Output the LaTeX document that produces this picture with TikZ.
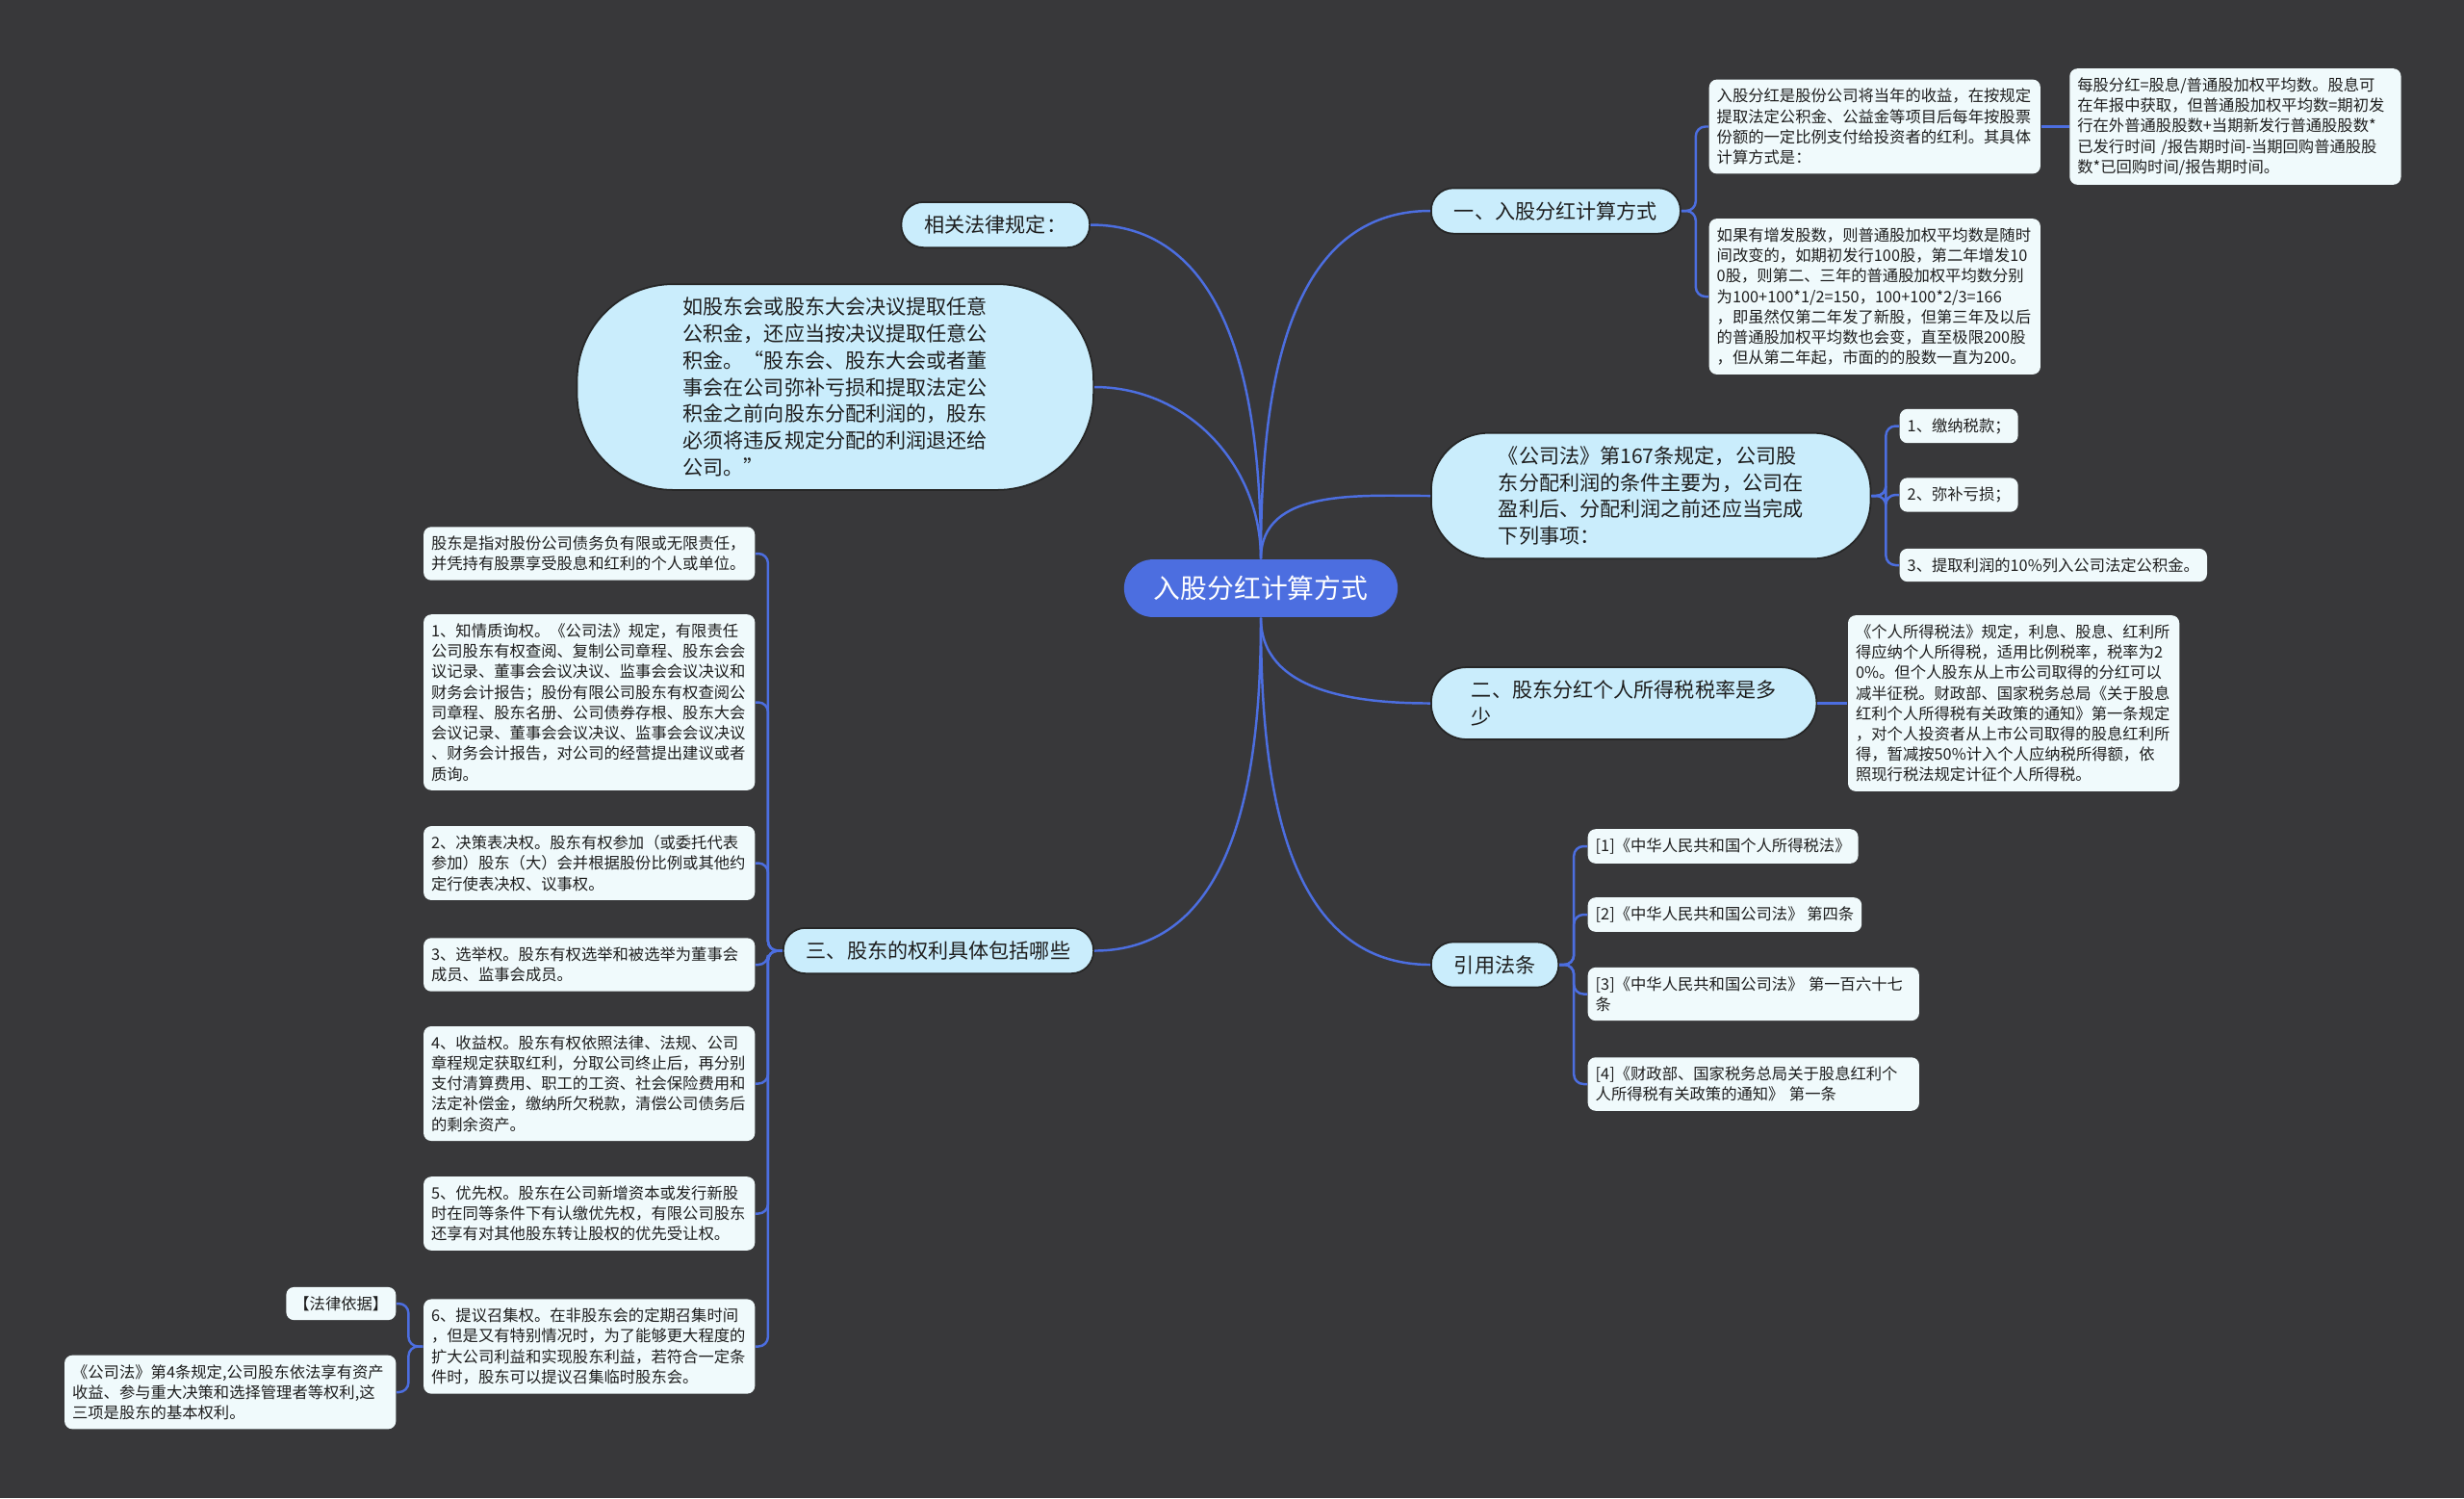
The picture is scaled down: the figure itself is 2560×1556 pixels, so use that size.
\documentclass[tikz,border=0pt]{standalone}
\usepackage{fontspec}
\setmainfont{Noto Sans CJK SC}
\usetikzlibrary{positioning}
\definecolor{tausta}{RGB}{56,56,58}
\definecolor{sininen}{RGB}{76,110,224}
\definecolor{vaalea}{RGB}{202,237,252}
\definecolor{valkea}{RGB}{240,250,252}
\definecolor{teksti}{RGB}{30,30,30}

\begin{document}
\begin{tikzpicture} [x=0.01cm, y=0.01cm, node distance=0.3cm,
                    juuri/.style={fill=sininen, text=white, rounded corners=0.3cm, inner xsep=0.31cm, inner ysep=0.17cm, font=\fontsize{7.9}{9}\selectfont},
                    haara/.style={fill=vaalea, text=teksti, draw=black!85, line width=0.5pt, rounded corners=0.23cm, inner xsep=0.24cm, inner ysep=0.138cm, align=left, font=\fontsize{6}{7.9}\selectfont},
                    lehti/.style={fill=valkea, text=teksti, rounded corners=0.08cm, inner xsep=0.08cm, inner ysep=0.095cm, align=left, font=\fontsize{4.64}{6.03}\selectfont},
                    laaja/.style={text width=3.28cm},
                    linkki/.style={draw=sininen, line width=0.7pt},
                    oikea/.style={rounded corners=0.1cm, to path={-- ++(15,0) |- (\tikztotarget)}},
                    vasen/.style={rounded corners=0.1cm, to path={-- ++(-15,0) |- (\tikztotarget)}}]

\fill[tausta] (0,0) rectangle (2560,-1556);

\node[juuri] (R) at (1310,-611) {入股分红计算方式};

% oikea puoli
\node[haara, anchor=west] (B1) at (1486,-219) {一、入股分红计算方式};
\node[lehti, laaja, anchor=west] (B1a) at (1775,-131.5) {入股分红是股份公司将当年的收益，在按规定\\提取法定公积金、公益金等项目后每年按股票\\份额的一定比例支付给投资者的红利。其具体\\计算方式是：};
\node[lehti, laaja] (B1b) [right=0.29cm of B1a] {每股分红=股息/普通股加权平均数。股息可\\在年报中获取，但普通股加权平均数=期初发\\行在外普通股股数+当期新发行普通股股数*\\已发行时间 /报告期时间-当期回购普通股股\\数*已回购时间/报告期时间。};
\node[lehti, laaja, anchor=west] (B1c) at (1775,-308) {如果有增发股数，则普通股加权平均数是随时\\间改变的，如期初发行100股，第二年增发10\\0股，则第二、三年的普通股加权平均数分别\\为100+100*1/2=150，100+100*2/3=166\\，即虽然仅第二年发了新股，但第三年及以后\\的普通股加权平均数也会变，直至极限200股\\，但从第二年起，市面的的股数一直为200。};

\node[haara, anchor=west, inner xsep=0.7cm, rounded corners=0.6cm] (B2) at (1486,-515) {《公司法》第167条规定，公司股\\东分配利润的条件主要为，公司在\\盈利后、分配利润之前还应当完成\\下列事项：};
\node[lehti, anchor=west] (B2a) at (1973,-442.5) {1、缴纳税款；};
\node[lehti, anchor=west] (B2b) at (1973,-514) {2、弥补亏损；};
\node[lehti, anchor=west] (B2c) at (1973,-587) {3、提取利润的10\%列入公司法定公积金。};

\node[haara, anchor=west, inner xsep=0.42cm, rounded corners=0.37cm] (B3) at (1486,-730.5) {二、股东分红个人所得税税率是多\\少};
\node[lehti, laaja] (B3a) [right=0.31cm of B3] {《个人所得税法》规定，利息、股息、红利所\\得应纳个人所得税，适用比例税率，税率为2\\0\%。但个人股东从上市公司取得的分红可以\\减半征税。财政部、国家税务总局《关于股息\\红利个人所得税有关政策的通知》第一条规定\\，对个人投资者从上市公司取得的股息红利所\\得，暂减按50\%计入个人应纳税所得额，依\\照现行税法规定计征个人所得税。};

\node[haara, anchor=west] (B4) at (1486,-1002) {引用法条};
\node[lehti, anchor=west] (B4a) at (1649,-879) {[1]《中华人民共和国个人所得税法》};
\node[lehti, anchor=west] (B4b) at (1649,-950) {[2]《中华人民共和国公司法》 第四条};
\node[lehti, laaja, anchor=west] (B4c) at (1649,-1032.5) {[3]《中华人民共和国公司法》 第一百六十七\\条};
\node[lehti, laaja, anchor=west] (B4d) at (1649,-1126) {[4]《财政部、国家税务总局关于股息红利个\\人所得税有关政策的通知》 第一条};

% vasen puoli
\node[haara, anchor=east] (L) at (1133,-233.5) {相关法律规定：};
\node[haara, anchor=east, inner xsep=1.1cm, rounded corners=1.0cm] (P) at (1137,-402) {如股东会或股东大会决议提取任意\\公积金，还应当按决议提取任意公\\积金。“股东会、股东大会或者董\\事会在公司弥补亏损和提取法定公\\积金之前向股东分配利润的，股东\\必须将违反规定分配的利润退还给\\公司。”};

\node[haara, anchor=east] (B5) at (1137,-987.5) {三、股东的权利具体包括哪些};
\node[lehti, laaja, anchor=east] (B5a) at (785,-575) {股东是指对股份公司债务负有限或无限责任，\\并凭持有股票享受股息和红利的个人或单位。};
\node[lehti, laaja, anchor=east] (B5b) at (785,-729.5) {1、知情质询权。《公司法》规定，有限责任\\公司股东有权查阅、复制公司章程、股东会会\\议记录、董事会会议决议、监事会会议决议和\\财务会计报告；股份有限公司股东有权查阅公\\司章程、股东名册、公司债券存根、股东大会\\会议记录、董事会会议决议、监事会会议决议\\、财务会计报告，对公司的经营提出建议或者\\质询。};
\node[lehti, laaja, anchor=east] (B5c) at (785,-896.5) {2、决策表决权。股东有权参加（或委托代表\\参加）股东（大）会并根据股份比例或其他约\\定行使表决权、议事权。};
\node[lehti, laaja, anchor=east] (B5d) at (785,-1002) {3、选举权。股东有权选举和被选举为董事会\\成员、监事会成员。};
\node[lehti, laaja, anchor=east] (B5e) at (785,-1125.5) {4、收益权。股东有权依照法律、法规、公司\\章程规定获取红利，分取公司终止后，再分别\\支付清算费用、职工的工资、社会保险费用和\\法定补偿金，缴纳所欠税款，清偿公司债务后\\的剩余资产。};
\node[lehti, laaja, anchor=east] (B5f) at (785,-1260.5) {5、优先权。股东在公司新增资本或发行新股\\时在同等条件下有认缴优先权，有限公司股东\\还享有对其他股东转让股权的优先受让权。};
\node[lehti, laaja, anchor=east] (B5g) at (785,-1398.5) {6、提议召集权。在非股东会的定期召集时间\\，但是又有特别情况时，为了能够更大程度的\\扩大公司利益和实现股东利益，若符合一定条\\件时，股东可以提议召集临时股东会。};
\node[lehti, anchor=east] (B5g1) at (412,-1354) {【法律依据】};
\node[lehti, laaja, anchor=east] (B5g2) at (412,-1446) {《公司法》第4条规定,公司股东依法享有资产\\收益、参与重大决策和选择管理者等权利,这\\三项是股东的基本权利。};

 \path[linkki]
    (R.north) edge[out=90, in=180] (B1.west)
    (R.north) edge[out=90, in=180] (B2.west)
    (R.south) edge[out=-90, in=180] (B3.west)
    (R.south) edge[out=-90, in=180] (B4.west)
    (R.north) edge[out=90, in=0] (L.east)
    (R.north) edge[out=90, in=0] (P.east)
    (R.south) edge[out=-90, in=0] (B5.east)
    (B1.east) edge[oikea] (B1a.west)
    (B1.east) edge[oikea] (B1c.west)
    (B1a.east) edge (B1b.west)
    (B2.east) edge[oikea] (B2a.west)
    (B2.east) edge[oikea] (B2b.west)
    (B2.east) edge[oikea] (B2c.west)
    (B3.east) edge (B3a.west)
    (B4.east) edge[oikea] (B4a.west)
    (B4.east) edge[oikea] (B4b.west)
    (B4.east) edge[oikea] (B4c.west)
    (B4.east) edge[oikea] (B4d.west)
    (B5.west) edge[vasen] (B5a.east)
    (B5.west) edge[vasen] (B5b.east)
    (B5.west) edge[vasen] (B5c.east)
    (B5.west) edge[vasen] (B5d.east)
    (B5.west) edge[vasen] (B5e.east)
    (B5.west) edge[vasen] (B5f.east)
    (B5.west) edge[vasen] (B5g.east)
    (B5g.west) edge[vasen] (B5g1.east)
    (B5g.west) edge[vasen] (B5g2.east);
\end{tikzpicture}
\end{document}
